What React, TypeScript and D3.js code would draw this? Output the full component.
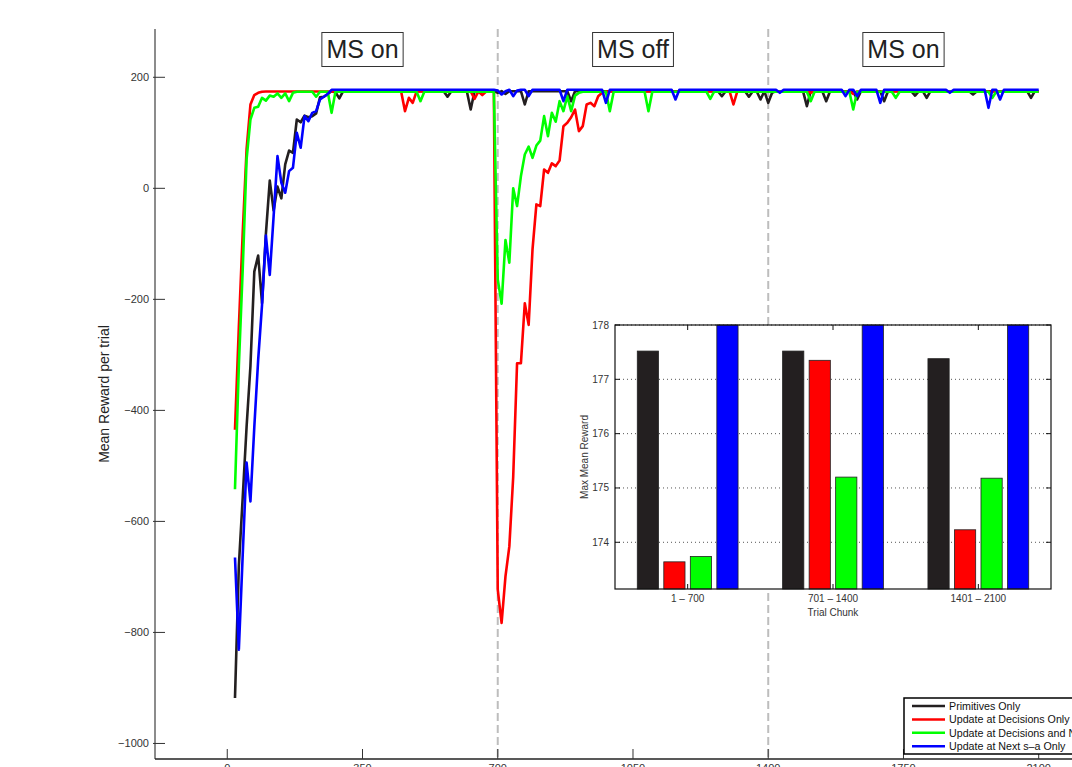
import React, { useRef, useEffect } from 'react';
import * as d3 from 'd3';

// trial index of every plotted point (one point per 10 trials)
const trials = d3.range(20, 2101, 10);

// Mean reward per trial
const primitivesOnly = [
  -918, -680, -557, -430, -320, -150, -121, -207,
  -82, 14, -40, 3, -18, 43, 68, 64, 124, 119,
  131, 128, 130, 135, 164, 165, 170, 175, 173, 162,
  175, 175, 175, 175, 175, 175, 175, 175, 175, 175,
  175, 175, 175, 175, 175, 175, 175, 175, 175, 175,
  175, 175, 175, 175, 175, 175, 175, 165, 175, 175,
  175, 175, 175, 142, 175, 175, 175, 175, 175, 175,
  172, 175, 170, 175, 175, 175, 175, 151, 175, 175,
  175, 175, 175, 175, 175, 175, 175, 175, 175, 157,
  175, 175, 175, 175, 175, 175, 175, 175, 175, 175,
  175, 175, 175, 175, 175, 175, 175, 175, 175, 175,
  175, 175, 175, 175, 175, 175, 175, 175, 175, 175,
  175, 175, 175, 175, 175, 175, 175, 175, 166, 175,
  175, 175, 175, 175, 175, 165, 175, 175, 160, 175,
  154, 172, 175, 175, 175, 175, 175, 175, 175, 175,
  148, 175, 175, 175, 175, 157, 175, 175, 175, 175,
  175, 175, 175, 160, 175, 175, 175, 175, 175, 175,
  157, 175, 175, 175, 175, 175, 175, 175, 167, 175,
  175, 163, 175, 175, 175, 175, 175, 175, 175, 175,
  175, 175, 175, 169, 175, 175, 175, 175, 175, 175,
  175, 175, 175, 175, 175, 175, 175, 175, 163, 175,
  175,
];

const decisionsOnly = [
  -435, -250, -80, 70, 151, 168, 172, 174,
  174.5, 174.5, 174.5, 174.5, 174.5, 174.5, 174.5, 174.5, 174.5, 174.5,
  174.5, 174.5, 174.5, 174.5, 174.5, 174.5, 174.5, 174.5, 174.5, 174.5,
  174.5, 174.5, 174.5, 174.5, 174.5, 174.5, 174.5, 174.5, 174.5, 174.5,
  174.5, 174.5, 174.5, 174.5, 174.5, 174.5, 139, 163, 154, 174.5,
  174.5, 174.5, 174.5, 174.5, 174.5, 174.5, 174.5, 174.5, 174.5, 174.5,
  174.5, 174.5, 174.5, 174.5, 161, 174.5, 168, 174.5, 174.5, 174.5,
  -723, -783, -699, -645, -520, -315, -315, -207, -246, -110,
  -29, -32, 34, 28, 45, 40, 50, 112, 118, 128,
  142, 103, 112, 151, 154, 148, 166, 172, 174.5, 174.5,
  174.5, 174.5, 174.5, 174.5, 174.5, 174.5, 174.5, 174.5, 174.5, 174.5,
  174.5, 174.5, 174.5, 174.5, 174.5, 174.5, 174.5, 174.5, 174.5, 174.5,
  174.5, 174.5, 174.5, 174.5, 174.5, 174.5, 174.5, 174.5, 174.5, 174.5,
  174.5, 151, 174.5, 174.5, 174.5, 174.5, 174.5, 174.5, 174.5, 174.5,
  174.5, 174.5, 174.5, 174.5, 174.5, 174.5, 174.5, 174.5, 174.5, 174.5,
  174.5, 172, 174.5, 174.5, 174.5, 174.5, 174.5, 174.5, 174.5, 174.5,
  174.5, 174.5, 170, 174.5, 174.5, 174.5, 174.5, 174.5, 174.5, 174.5,
  174.5, 174.5, 174.5, 174.5, 174.5, 174.5, 174.5, 174.5, 174.5, 174.5,
  174.5, 174.5, 174.5, 174.5, 174.5, 174.5, 174.5, 174.5, 174.5, 174.5,
  174.5, 174.5, 174.5, 174.5, 174.5, 174.5, 174.5, 174.5, 174.5, 174.5,
  174.5, 174.5, 174.5, 174.5, 174.5, 174.5, 174.5, 174.5, 174.5, 174.5,
  174.5,
];

const decisionsAndNext = [
  -542, -320, -146, 52, 124, 145, 147, 163,
  158, 167, 165, 171, 163, 171, 157, 172, 174, 174,
  174, 174, 174, 165, 174, 174, 174, 136, 174, 174,
  174, 174, 174, 174, 174, 174, 174, 174, 174, 174,
  174, 174, 174, 174, 174, 174, 174, 174, 174, 174,
  157, 174, 174, 174, 174, 174, 174, 174, 174, 174,
  174, 174, 174, 174, 174, 174, 174, 174, 174, 174,
  -164, -208, -93, -134, 0, -32, 22, 61, 75, 55,
  77, 86, 130, 94, 136, 120, 157, 139, 166, 139,
  167, 172, 174, 174, 174, 174, 174, 174, 174, 139,
  174, 174, 174, 174, 174, 174, 174, 174, 174, 139,
  174, 174, 174, 174, 174, 174, 174, 174, 174, 174,
  174, 174, 174, 174, 174, 161, 174, 174, 174, 174,
  174, 174, 174, 174, 174, 174, 174, 174, 174, 174,
  174, 174, 174, 174, 174, 174, 174, 174, 174, 174,
  174, 157, 174, 174, 174, 174, 174, 174, 174, 174,
  174, 174, 142, 174, 174, 174, 174, 174, 174, 174,
  174, 174, 174, 163, 174, 174, 174, 174, 174, 174,
  174, 174, 174, 174, 174, 174, 174, 174, 174, 174,
  174, 174, 174, 174, 174, 174, 174, 174, 163, 174,
  174, 174, 174, 174, 174, 174, 174, 174, 174, 174,
  174,
];

const nextSaOnly = [
  -665, -831, -660, -494, -564, -430, -309, -210,
  -85, -156, -50, 58, 10, -8, 31, 37, 100, 73,
  130, 121, 136, 139, 160, 165, 170, 177.5, 177.5, 177.5,
  177.5, 177.5, 177.5, 177.5, 177.5, 177.5, 177.5, 177.5, 177.5, 177.5,
  177.5, 177.5, 177.5, 177.5, 177.5, 177.5, 177.5, 177.5, 177.5, 177.5,
  177.5, 177.5, 177.5, 177.5, 177.5, 177.5, 177.5, 177.5, 177.5, 177.5,
  177.5, 177.5, 177.5, 177.5, 177.5, 177.5, 177.5, 177.5, 177.5, 177.5,
  176, 169, 175, 177.5, 166, 176, 177.5, 177.5, 166, 177.5,
  177.5, 177.5, 177.5, 177.5, 177.5, 177.5, 177.5, 157, 177.5, 177.5,
  177.5, 177.5, 177.5, 177.5, 177.5, 177.5, 177.5, 177.5, 154, 177.5,
  177.5, 177.5, 177.5, 177.5, 177.5, 177.5, 177.5, 177.5, 177.5, 177.5,
  177.5, 177.5, 177.5, 177.5, 177.5, 177.5, 160, 177.5, 177.5, 177.5,
  177.5, 177.5, 177.5, 177.5, 177.5, 177.5, 177.5, 177.5, 177.5, 177.5,
  177.5, 177.5, 177.5, 177.5, 177.5, 177.5, 177.5, 177.5, 177.5, 177.5,
  177.5, 177.5, 177.5, 172, 177.5, 177.5, 177.5, 177.5, 177.5, 177.5,
  177.5, 177.5, 177.5, 177.5, 177.5, 177.5, 177.5, 177.5, 177.5, 177.5,
  166, 177.5, 177.5, 166, 177.5, 177.5, 177.5, 177.5, 177.5, 154,
  177.5, 177.5, 177.5, 177.5, 177.5, 177.5, 177.5, 177.5, 177.5, 177.5,
  177.5, 177.5, 177.5, 177.5, 177.5, 177.5, 177.5, 172, 177.5, 177.5,
  177.5, 177.5, 177.5, 177.5, 177.5, 177.5, 177.5, 145, 177.5, 177.5,
  160, 177.5, 177.5, 177.5, 177.5, 177.5, 177.5, 177.5, 177.5, 177.5,
  177.5,
];

const seriesNames = [
  'Primitives Only',
  'Update at Decisions Only',
  'Update at Decisions and Next s\u2013a',
  'Update at Next s\u2013a Only',
];
const seriesColors = ['#231f20', '#ff0000', '#00ff00', '#0000ff'];

const xTicks = [0, 350, 700, 1050, 1400, 1750, 2100];
const yTicks = [-1000, -800, -600, -400, -200, 0, 200];
const phaseBreaks = [700, 1400];
const phaseLabels = ['MS on', 'MS off', 'MS on'];
const phaseCenters = [350, 1050, 1750];

// inset: max mean reward per trial chunk
const chunkLabels = ['1 \u2013 700', '701 \u2013 1400', '1401 \u2013 2100'];
const maxPrimitives = [177.52, 177.52, 177.38];
const maxDecisions = [173.64, 177.35, 174.23];
const maxDecisionsNext = [173.74, 175.2, 175.18];
const maxNextSa = [178.0, 178.0, 178.0];
const insetTicks = [174, 175, 176, 177, 178];

const FONT = '"Liberation Sans", Arial, Helvetica, sans-serif';

const App = () => {
  const svgRef = useRef(null);

  useEffect(() => {
    if (!svgRef.current) return;
    const svg = d3.select(svgRef.current);
    svg.selectAll('*').remove();

    const width = 1072;
    const height = 767;
    svg.attr('width', width).attr('height', height).style('font-family', FONT);

    const plot = { left: 155, right: 1116, top: 29, bottom: 759 };

    const x = d3.scaleLinear().domain([-187, 2300]).range([plot.left, plot.right]);
    const y = d3.scaleLinear().domain([-1028, 287]).range([plot.bottom, plot.top]);

    // phase separators
    svg.selectAll('.phase-line')
      .data(phaseBreaks)
      .enter()
      .append('line')
      .attr('x1', d => x(d))
      .attr('x2', d => x(d))
      .attr('y1', plot.top)
      .attr('y2', plot.bottom)
      .attr('stroke', '#bdbdbd')
      .attr('stroke-width', 2)
      .attr('stroke-dasharray', '8,4');

    // lines
    const allSeries = [primitivesOnly, decisionsOnly, decisionsAndNext, nextSaOnly];
    const line = d3.line()
      .x((_, i) => x(trials[i]))
      .y(d => y(d));

    allSeries.forEach((values, k) => {
      svg.append('path')
        .datum(values)
        .attr('d', line)
        .attr('fill', 'none')
        .attr('stroke', seriesColors[k])
        .attr('stroke-width', 2.6)
        .attr('stroke-linejoin', 'round');
    });

    // axes
    svg.append('line')
      .attr('x1', plot.left).attr('x2', plot.left)
      .attr('y1', plot.top).attr('y2', plot.bottom)
      .attr('stroke', '#666').attr('stroke-width', 1.5);
    svg.append('line')
      .attr('x1', plot.left).attr('x2', width)
      .attr('y1', plot.bottom).attr('y2', plot.bottom)
      .attr('stroke', '#222').attr('stroke-width', 1.5);

    const yTick = svg.selectAll('.ytick').data(yTicks).enter().append('g');
    yTick.append('line')
      .attr('x1', plot.left - 2).attr('x2', plot.left + 10)
      .attr('y1', d => y(d)).attr('y2', d => y(d))
      .attr('stroke', '#333').attr('stroke-width', 1);
    yTick.append('text')
      .attr('x', plot.left - 6)
      .attr('y', d => y(d))
      .attr('dy', '0.35em')
      .attr('text-anchor', 'end')
      .attr('font-size', 11)
      .attr('fill', '#333')
      .text(d => d3.format('d')(d));

    const xTick = svg.selectAll('.xtick').data(xTicks).enter().append('g');
    xTick.append('line')
      .attr('x1', d => x(d)).attr('x2', d => x(d))
      .attr('y1', plot.bottom).attr('y2', plot.bottom - 10)
      .attr('stroke', '#333').attr('stroke-width', 1);
    xTick.append('text')
      .attr('x', d => x(d))
      .attr('y', plot.bottom + 13)
      .attr('text-anchor', 'middle')
      .attr('font-size', 11)
      .attr('fill', '#333')
      .text(d => d);

    svg.append('text')
      .attr('transform', `translate(109, ${(plot.top + plot.bottom) / 2}) rotate(-90)`)
      .attr('text-anchor', 'middle')
      .attr('font-size', 14)
      .attr('fill', '#222')
      .text('Mean Reward per trial');

    // phase labels in boxes
    phaseLabels.forEach((label, i) => {
      const g = svg.append('g').attr('transform', `translate(${x(phaseCenters[i])}, 49.5)`);
      const t = g.append('text')
        .attr('text-anchor', 'middle')
        .attr('dy', '0.35em')
        .attr('font-size', 25)
        .attr('fill', '#222')
        .text(label);
      const bb = t.node().getBBox();
      g.insert('rect', 'text')
        .attr('x', bb.x - 4.5)
        .attr('y', -17)
        .attr('width', bb.width + 9)
        .attr('height', 34)
        .attr('fill', 'white')
        .attr('stroke', '#333')
        .attr('stroke-width', 1);
    });

    // inset bar chart
    const inset = { left: 615, right: 1051, top: 325, bottom: 589 };
    const ix0 = d3.scaleBand().domain(chunkLabels).range([inset.left, inset.right]).padding(0);
    const ix1 = d3.scaleBand().domain(d3.range(4)).range([0, ix0.bandwidth()])
      .paddingInner(0.2).paddingOuter(0.84);
    const iy = d3.scaleLinear().domain([173.14, 178]).range([inset.bottom, inset.top]);

    svg.append('rect')
      .attr('x', inset.left).attr('y', inset.top)
      .attr('width', inset.right - inset.left).attr('height', inset.bottom - inset.top)
      .attr('fill', 'white');

    svg.selectAll('.igrid').data(insetTicks).enter().append('line')
      .attr('x1', inset.left).attr('x2', inset.right)
      .attr('y1', d => iy(d)).attr('y2', d => iy(d))
      .attr('stroke', '#555').attr('stroke-width', 1).attr('stroke-dasharray', '1,3');

    const insetSeries = [maxPrimitives, maxDecisions, maxDecisionsNext, maxNextSa];
    const barRows = [];
    chunkLabels.forEach((c, ci) => {
      insetSeries.forEach((vals, si) => barRows.push({ chunk: c, s: si, v: vals[ci] }));
    });
    svg.selectAll('.ibar').data(barRows).enter().append('rect')
      .attr('x', d => ix0(d.chunk) + ix1(d.s))
      .attr('width', ix1.bandwidth())
      .attr('y', d => iy(d.v))
      .attr('height', d => inset.bottom - iy(d.v))
      .attr('fill', d => seriesColors[d.s])
      .attr('stroke', '#222')
      .attr('stroke-width', 0.8);

    svg.append('rect')
      .attr('x', inset.left).attr('y', inset.top)
      .attr('width', inset.right - inset.left).attr('height', inset.bottom - inset.top)
      .attr('fill', 'none').attr('stroke', '#111').attr('stroke-width', 1.2);

    const iyTick = svg.selectAll('.iytick').data(insetTicks).enter().append('g');
    iyTick.append('line')
      .attr('x1', inset.left).attr('x2', inset.left + 5)
      .attr('y1', d => iy(d)).attr('y2', d => iy(d)).attr('stroke', '#111');
    iyTick.append('line')
      .attr('x1', inset.right - 5).attr('x2', inset.right)
      .attr('y1', d => iy(d)).attr('y2', d => iy(d)).attr('stroke', '#111');
    iyTick.append('text')
      .attr('x', inset.left - 6)
      .attr('y', d => iy(d))
      .attr('dy', '0.35em')
      .attr('text-anchor', 'end')
      .attr('font-size', 10)
      .attr('fill', '#333')
      .text(d => d);

    const ixTick = svg.selectAll('.ixtick').data(chunkLabels).enter().append('g');
    ixTick.append('line')
      .attr('x1', d => ix0(d) + ix0.bandwidth() / 2).attr('x2', d => ix0(d) + ix0.bandwidth() / 2)
      .attr('y1', inset.top).attr('y2', inset.top + 5).attr('stroke', '#111');
    ixTick.append('line')
      .attr('x1', d => ix0(d) + ix0.bandwidth() / 2).attr('x2', d => ix0(d) + ix0.bandwidth() / 2)
      .attr('y1', inset.bottom - 5).attr('y2', inset.bottom).attr('stroke', '#111');
    ixTick.append('text')
      .attr('x', d => ix0(d) + ix0.bandwidth() / 2)
      .attr('y', inset.bottom + 9)
      .attr('dy', '0.35em')
      .attr('text-anchor', 'middle')
      .attr('font-size', 10)
      .attr('fill', '#333')
      .text(d => d);

    svg.append('text')
      .attr('x', (inset.left + inset.right) / 2)
      .attr('y', inset.bottom + 23)
      .attr('dy', '0.35em')
      .attr('text-anchor', 'middle')
      .attr('font-size', 10)
      .attr('fill', '#333')
      .text('Trial Chunk');

    svg.append('text')
      .attr('transform', `translate(${inset.left - 31}, ${(inset.top + inset.bottom) / 2}) rotate(-90)`)
      .attr('text-anchor', 'middle')
      .attr('dy', '0.35em')
      .attr('font-size', 10)
      .attr('fill', '#333')
      .text('Max Mean Reward');

    // legend
    const legend = svg.append('g').attr('transform', 'translate(904, 698)');
    legend.append('rect')
      .attr('width', 200).attr('height', 56)
      .attr('fill', 'white').attr('stroke', '#000').attr('stroke-width', 1.5);
    seriesNames.forEach((name, i) => {
      const ly = 8 + i * 13.4;
      legend.append('line')
        .attr('x1', 8).attr('x2', 41)
        .attr('y1', ly).attr('y2', ly)
        .attr('stroke', seriesColors[i]).attr('stroke-width', 2.5);
      legend.append('text')
        .attr('x', 45).attr('y', ly)
        .attr('dy', '0.35em')
        .attr('font-size', 10.7)
        .attr('fill', '#111')
        .text(name);
    });
  }, []);

  return (
    <div style={{ position: 'absolute', left: 0, top: 0, width: 1072, height: 767, overflow: 'hidden', background: 'white' }}>
      <svg ref={svgRef} style={{ display: 'block' }}></svg>
    </div>
  );
};

export default App;
